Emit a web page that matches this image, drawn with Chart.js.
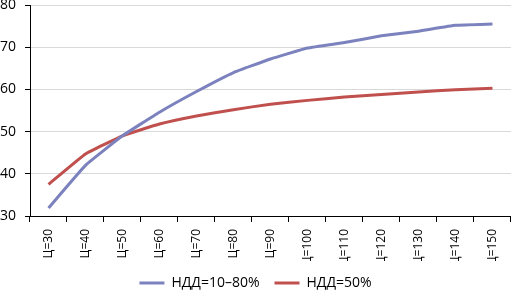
<!DOCTYPE html>
<html>
<head>
<meta charset="utf-8">
<script src="https://cdn.jsdelivr.net/npm/chart.js@4"></script>
<style>
  html, body { margin: 0; padding: 0; background: #fff; }
  #wrap { width: 514px; height: 293px; position: relative; }
</style>
</head>
<body>
<div id="wrap"><canvas id="chart"></canvas></div>
<script>
// категории и значения
const categories = ['Ц=30', 'Ц=40', 'Ц=50', 'Ц=60', 'Ц=70', 'Ц=80', 'Ц=90',
    'Ц=100', 'Ц=110', 'Ц=120', 'Ц=130', 'Ц=140', 'Ц=150'];
const seriesNames = ['НДД=10–80%', 'НДД=50%'];
const ndd10to80 = [31.9, 42.0, 49.0, 54.6, 59.5, 64.0, 67.2, 69.8, 71.1, 72.7, 73.8, 75.2, 75.5];
const ndd50 = [37.5, 44.7, 49.0, 51.8, 53.7, 55.2, 56.5, 57.4, 58.2, 58.8, 59.4, 59.9, 60.3];
const yTicks = [30, 40, 50, 60, 70, 80];

const fontName = '"Open Sans", "DejaVu Sans", sans-serif';

const data = {
    labels: categories,
    datasets: [
        {
            label: seriesNames[0],
            data: ndd10to80,
            borderColor: '#7b82be',
            backgroundColor: '#7b82be',
            borderWidth: 3,
            pointRadius: 0,
            tension: 0.1,
            fill: false
        },
        {
            label: seriesNames[1],
            data: ndd50,
            borderColor: '#c0504d',
            backgroundColor: '#c0504d',
            borderWidth: 3,
            pointRadius: 0,
            tension: 0.1,
            fill: false
        }
    ]
};

const options = {
    responsive: true,
    maintainAspectRatio: false,
    animation: false,
    layout: { padding: { top: 0, right: 3, left: 0, bottom: -7 } },
    scales: {
        x: {
            offset: true,
            grid: {
                display: true,
                drawOnChartArea: false,
                offset: true,
                color: '#000',
                tickLength: 6,
                tickColor: '#000'
            },
            border: { color: '#000', width: 1 },
            ticks: {
                color: '#000',
                font: { family: fontName, size: 12 },
                maxRotation: 90,
                minRotation: 90,
                autoSkip: false,
                padding: 7
            },
            afterFit: function (axis) { axis.height = 45; }
        },
        y: {
            min: 30,
            max: 80,
            afterBuildTicks: function (axis) {
                axis.ticks = yTicks.map(function (v) { return { value: v }; });
            },
            grid: {
                color: '#d9d9d9',
                tickLength: 5,
                tickColor: '#000'
            },
            border: { color: '#000', width: 1 },
            ticks: {
                color: '#000',
                font: { family: fontName, size: 14 },
                padding: 9
            },
            afterFit: function (axis) {
                axis.width = 30;
                axis.paddingTop = 5;
            }
        }
    },
    plugins: {
        legend: {
            position: 'bottom',
            labels: {
                color: '#000',
                font: { family: fontName, size: 14 },
                boxWidth: 25,
                boxHeight: 3,
                padding: 15,
                generateLabels: function (chart) {
                    const items = Chart.defaults.plugins.legend.labels.generateLabels(chart);
                    items.forEach(function (item) { item.lineWidth = 0; });
                    return items;
                }
            }
        },
        tooltip: { enabled: false }
    }
};

const ctx = document.getElementById('chart').getContext('2d');
const chart = new Chart(ctx, { type: 'line', data: data, options: options });
</script>
</body>
</html>
